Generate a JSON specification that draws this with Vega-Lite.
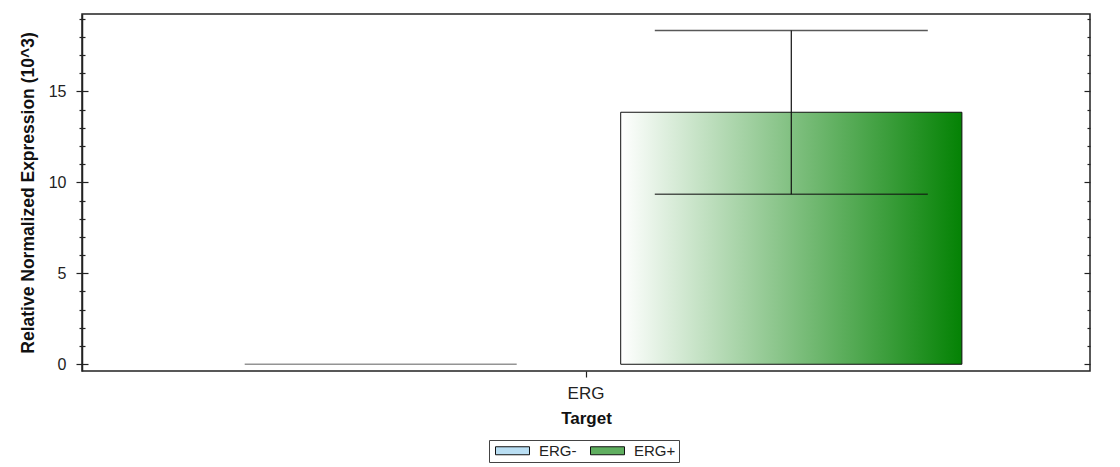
{
  "$schema": "https://vega.github.io/schema/vega-lite/v6.json",
  "width": 1008,
  "height": 357,
  "autosize": "none",
  "padding": {"left": 82, "top": 14, "right": 30, "bottom": 96},
  "background": "white",
  "data": {
    "values": [
      {"Target": "ERG", "Group": "ERG-", "value": 0.0, "lo": null, "hi": null},
      {"Target": "ERG", "Group": "ERG+", "value": 13.85, "lo": 9.35, "hi": 18.35}
    ]
  },
  "config": {
    "font": "Liberation Sans",
    "view": {"stroke": "#222", "strokeWidth": 1.5},
    "axis": {
      "grid": false,
      "domainColor": "#222",
      "tickColor": "#222",
      "labelColor": "#222",
      "titleColor": "#111",
      "labelFont": "Liberation Sans",
      "titleFont": "Liberation Sans",
      "labelFontSize": 16,
      "titleFontSize": 17.5,
      "domainWidth": 1.5,
      "tickWidth": 1.2
    }
  },
  "encoding": {
    "x": {
      "field": "Target",
      "type": "nominal",
      "scale": {"paddingInner": 0, "paddingOuter": 0},
      "axis": {
        "title": "Target",
        "titleFontWeight": "bold",
        "titleFontSize": 17,
        "labelFontSize": 17,
        "labelAngle": 0,
        "tickSize": 6,
        "labelPadding": 8,
        "titlePadding": 9,
        "domain": false
      }
    },
    "xOffset": {
      "field": "Group",
      "type": "nominal",
      "scale": {"domain": ["ERG-", "ERG+"], "paddingInner": 0.169, "paddingOuter": 0.312}
    }
  },
  "layer": [
    {
      "transform": [{"filter": "datum.Group === 'ERG+'"}],
      "mark": {
        "type": "bar",
        "fill": {
          "gradient": "linear", "x1": 0, "y1": 0, "x2": 1, "y2": 0,
          "stops": [{"offset": 0, "color": "#ffffff"}, {"offset": 1, "color": "#048204"}]
        },
        "stroke": "#111",
        "strokeWidth": 1
      },
      "encoding": {
        "y": {
          "field": "value",
          "type": "quantitative",
          "scale": {"domain": [-0.37, 19.25], "nice": false, "zero": false},
          "axis": {
            "orient": "left",
            "values": [0, 5, 10, 15],
            "ticks": false,
            "tickSize": 0,
            "labelPadding": 16,
            "title": "Relative Normalized Expression (10^3)",
            "titleFontWeight": "bold",
            "titlePadding": 11,
            "domain": true
          }
        }
      }
    },
    {
      "transform": [{"filter": "datum.Group === 'ERG-'"}],
      "mark": {"type": "tick", "orient": "horizontal", "size": 272, "thickness": 1.5, "color": "#666"},
      "encoding": {
        "y": {
          "field": "value",
          "type": "quantitative",
          "scale": {"domain": [-0.37, 19.25], "nice": false, "zero": false},
          "axis": {"orient": "left", "values": [0, 5, 10, 15], "offset": -6, "tickSize": 12, "domain": false, "labels": false, "title": null}
        }
      }
    },
    {
      "transform": [{"filter": "datum.Group === 'ERG+'"}],
      "mark": {"type": "rule", "color": "#111", "strokeWidth": 1.2},
      "encoding": {
        "y": {
          "field": "lo",
          "type": "quantitative",
          "scale": {"domain": [-0.37, 19.25], "nice": false, "zero": false},
          "axis": {"orient": "left", "values": [1, 2, 3, 4, 6, 7, 8, 9, 11, 12, 13, 14, 16, 17, 18, 19], "offset": -3, "tickSize": 6, "domain": false, "labels": false, "title": null}
        },
        "y2": {"field": "hi"}
      }
    },
    {
      "transform": [{"filter": "datum.Group === 'ERG+'"}],
      "mark": {"type": "tick", "orient": "horizontal", "size": 273, "thickness": 1.5, "color": "#111"},
      "encoding": {
        "y": {
          "field": "lo",
          "type": "quantitative",
          "scale": {"domain": [-0.37, 19.25], "nice": false, "zero": false},
          "axis": {"orient": "right", "values": [0, 5, 10, 15], "offset": -6, "tickSize": 6, "domain": false, "labels": false, "title": null}
        }
      }
    },
    {
      "transform": [{"filter": "datum.Group === 'ERG+'"}],
      "mark": {"type": "tick", "orient": "horizontal", "size": 273, "thickness": 1.5, "color": "#111"},
      "encoding": {
        "y": {
          "field": "hi",
          "type": "quantitative",
          "scale": {"domain": [-0.37, 19.25], "nice": false, "zero": false},
          "axis": {"orient": "right", "values": [1, 2, 3, 4, 6, 7, 8, 9, 11, 12, 13, 14, 16, 17, 18, 19], "offset": -3, "tickSize": 3, "domain": false, "labels": false, "title": null}
        }
      }
    },
    {
      "mark": {"type": "point", "filled": true, "opacity": 0},
      "encoding": {
        "y": {
          "field": "value",
          "type": "quantitative",
          "scale": {"domain": [-0.37, 19.25], "nice": false, "zero": false},
          "axis": null
        },
        "color": {
          "field": "Group",
          "type": "nominal",
          "scale": {"domain": ["ERG-", "ERG+"], "range": ["#b9def3", "#5fae5f"]},
          "legend": {
            "orient": "none",
            "legendX": 407,
            "legendY": 426,
            "direction": "horizontal",
            "title": null,
            "values": ["ERG-", "ERG+"],
            "strokeColor": "#444",
            "padding": 3,
            "symbolType": "M-1,-1L7.5,-1L7.5,1L-1,1Z",
            "symbolSize": 64,
            "symbolStrokeColor": "#111",
            "symbolStrokeWidth": 1,
            "symbolOpacity": 1,
            "labelFontSize": 15,
            "labelColor": "#222",
            "labelOffset": 32,
            "columnPadding": 10
          }
        }
      }
    }
  ],
  "resolve": {"axis": {"y": "independent"}}
}
